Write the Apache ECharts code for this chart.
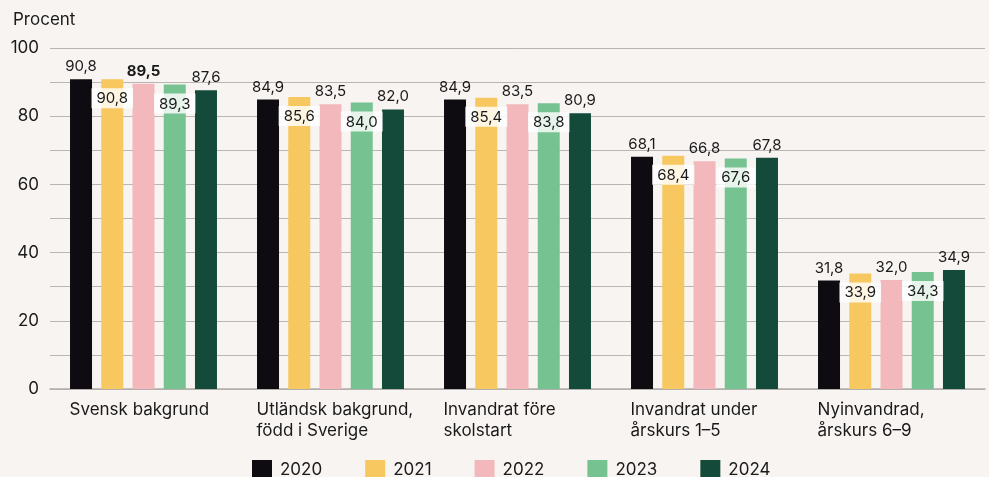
<!DOCTYPE html>
<html>
<head>
<meta charset="utf-8">
<script src="https://cdn.jsdelivr.net/npm/echarts@6/dist/echarts.min.js"></script>
<style>
  html, body { margin: 0; padding: 0; background: #f8f4f2; }
  #chart { width: 989px; height: 477px; }
</style>
</head>
<body>
<div id="chart"></div>
<script>
// kategorier och värden
const categories = [
  'Svensk bakgrund',
  'Utländsk bakgrund,\nfödd i Sverige',
  'Invandrat före\nskolstart',
  'Invandrat under\nårskurs 1–5',
  'Nyinvandrad,\nårskurs 6–9'
]
const years = ['2020', '2021', '2022', '2023', '2024']
const v2020 = [90.8, 84.9, 84.9, 68.1, 31.8]
const v2021 = [90.8, 85.6, 85.4, 68.4, 33.9]
const v2022 = [89.5, 83.5, 83.5, 66.8, 32.0]
const v2023 = [89.3, 84.0, 83.8, 67.6, 34.3]
const v2024 = [87.6, 82.0, 80.9, 67.8, 34.9]
const yTicks = [0, 20, 40, 60, 80, 100]

const colors = ['#0e0c10', '#f6c85f', '#f2b8bb', '#77c291', '#134a3a']
const font = 'Inter, "Noto Sans", sans-serif'
const fmt = v => v.toFixed(1).replace('.', ',')

// etiketter ovanför stapeln
const outside = {
  show: true,
  position: 'top',
  distance: 5,
  color: '#1a1a1a',
  fontFamily: font,
  fontSize: 15,
  formatter: p => fmt(p.value)
}
// etiketter inne i stapeln med vit ruta
const inside = {
  show: true,
  position: 'insideTop',
  distance: 9,
  color: '#1a1a1a',
  fontFamily: font,
  fontSize: 15,
  backgroundColor: 'rgba(255,255,255,0.82)',
  padding: [3, 5, 2, 5],
  formatter: p => fmt(p.value)
}

function makeSeries(i, data, label) {
  return {
    name: years[i],
    type: 'bar',
    barWidth: 22,
    barGap: '42%',
    itemStyle: { color: colors[i] },
    label: label,
    data: data
  }
}

const s2022 = makeSeries(2, v2022, outside)
// 89,5 är fetstil i originalet
s2022.data = v2022.map((v, i) => i === 0 ? { value: v, label: { fontWeight: 'bold' } } : v)

const chart = echarts.init(document.getElementById('chart'))
chart.setOption({
  backgroundColor: '#f8f4f2',
  animation: false,
  color: colors,
  title: {
    text: 'Procent',
    left: 8,
    top: 6,
    textStyle: { fontFamily: font, fontSize: 17, fontWeight: 'normal', color: '#1a1a1a' }
  },
  legend: {
    bottom: -8,
    left: 247,
    itemWidth: 20,
    itemHeight: 20,
    itemGap: 43,
    icon: 'rect',
    textStyle: { fontFamily: font, fontSize: 17, color: '#1a1a1a', padding: [0, 0, 0, 3] },
    data: years
  },
  grid: { left: 50, right: 4, top: 48, bottom: 88 },
  xAxis: {
    type: 'category',
    data: categories,
    axisTick: { show: false },
    axisLine: { lineStyle: { color: '#b0adab', width: 1.5 } },
    axisLabel: {
      margin: 10,
      lineHeight: 21,
      formatter: v => v.split('\n').map(s => '{a|' + s + '}').join('\n'),
      rich: {
        a: {
          width: 148,
          align: 'left',
          fontFamily: font,
          fontSize: 17,
          lineHeight: 21,
          color: '#1a1a1a'
        }
      }
    }
  },
  yAxis: {
    type: 'value',
    min: 0,
    max: 100,
    interval: 10,
    axisLine: { show: false },
    axisTick: { show: false },
    axisLabel: {
      margin: 11,
      fontFamily: font,
      fontSize: 17,
      color: '#1a1a1a',
      formatter: v => yTicks.includes(v) ? String(v) : ''
    },
    splitLine: { lineStyle: { color: '#b8b5b3', width: 1 } }
  },
  series: [
    makeSeries(0, v2020, outside),
    makeSeries(1, v2021, inside),
    s2022,
    makeSeries(3, v2023, inside),
    makeSeries(4, v2024, outside)
  ]
})
</script>
</body>
</html>
